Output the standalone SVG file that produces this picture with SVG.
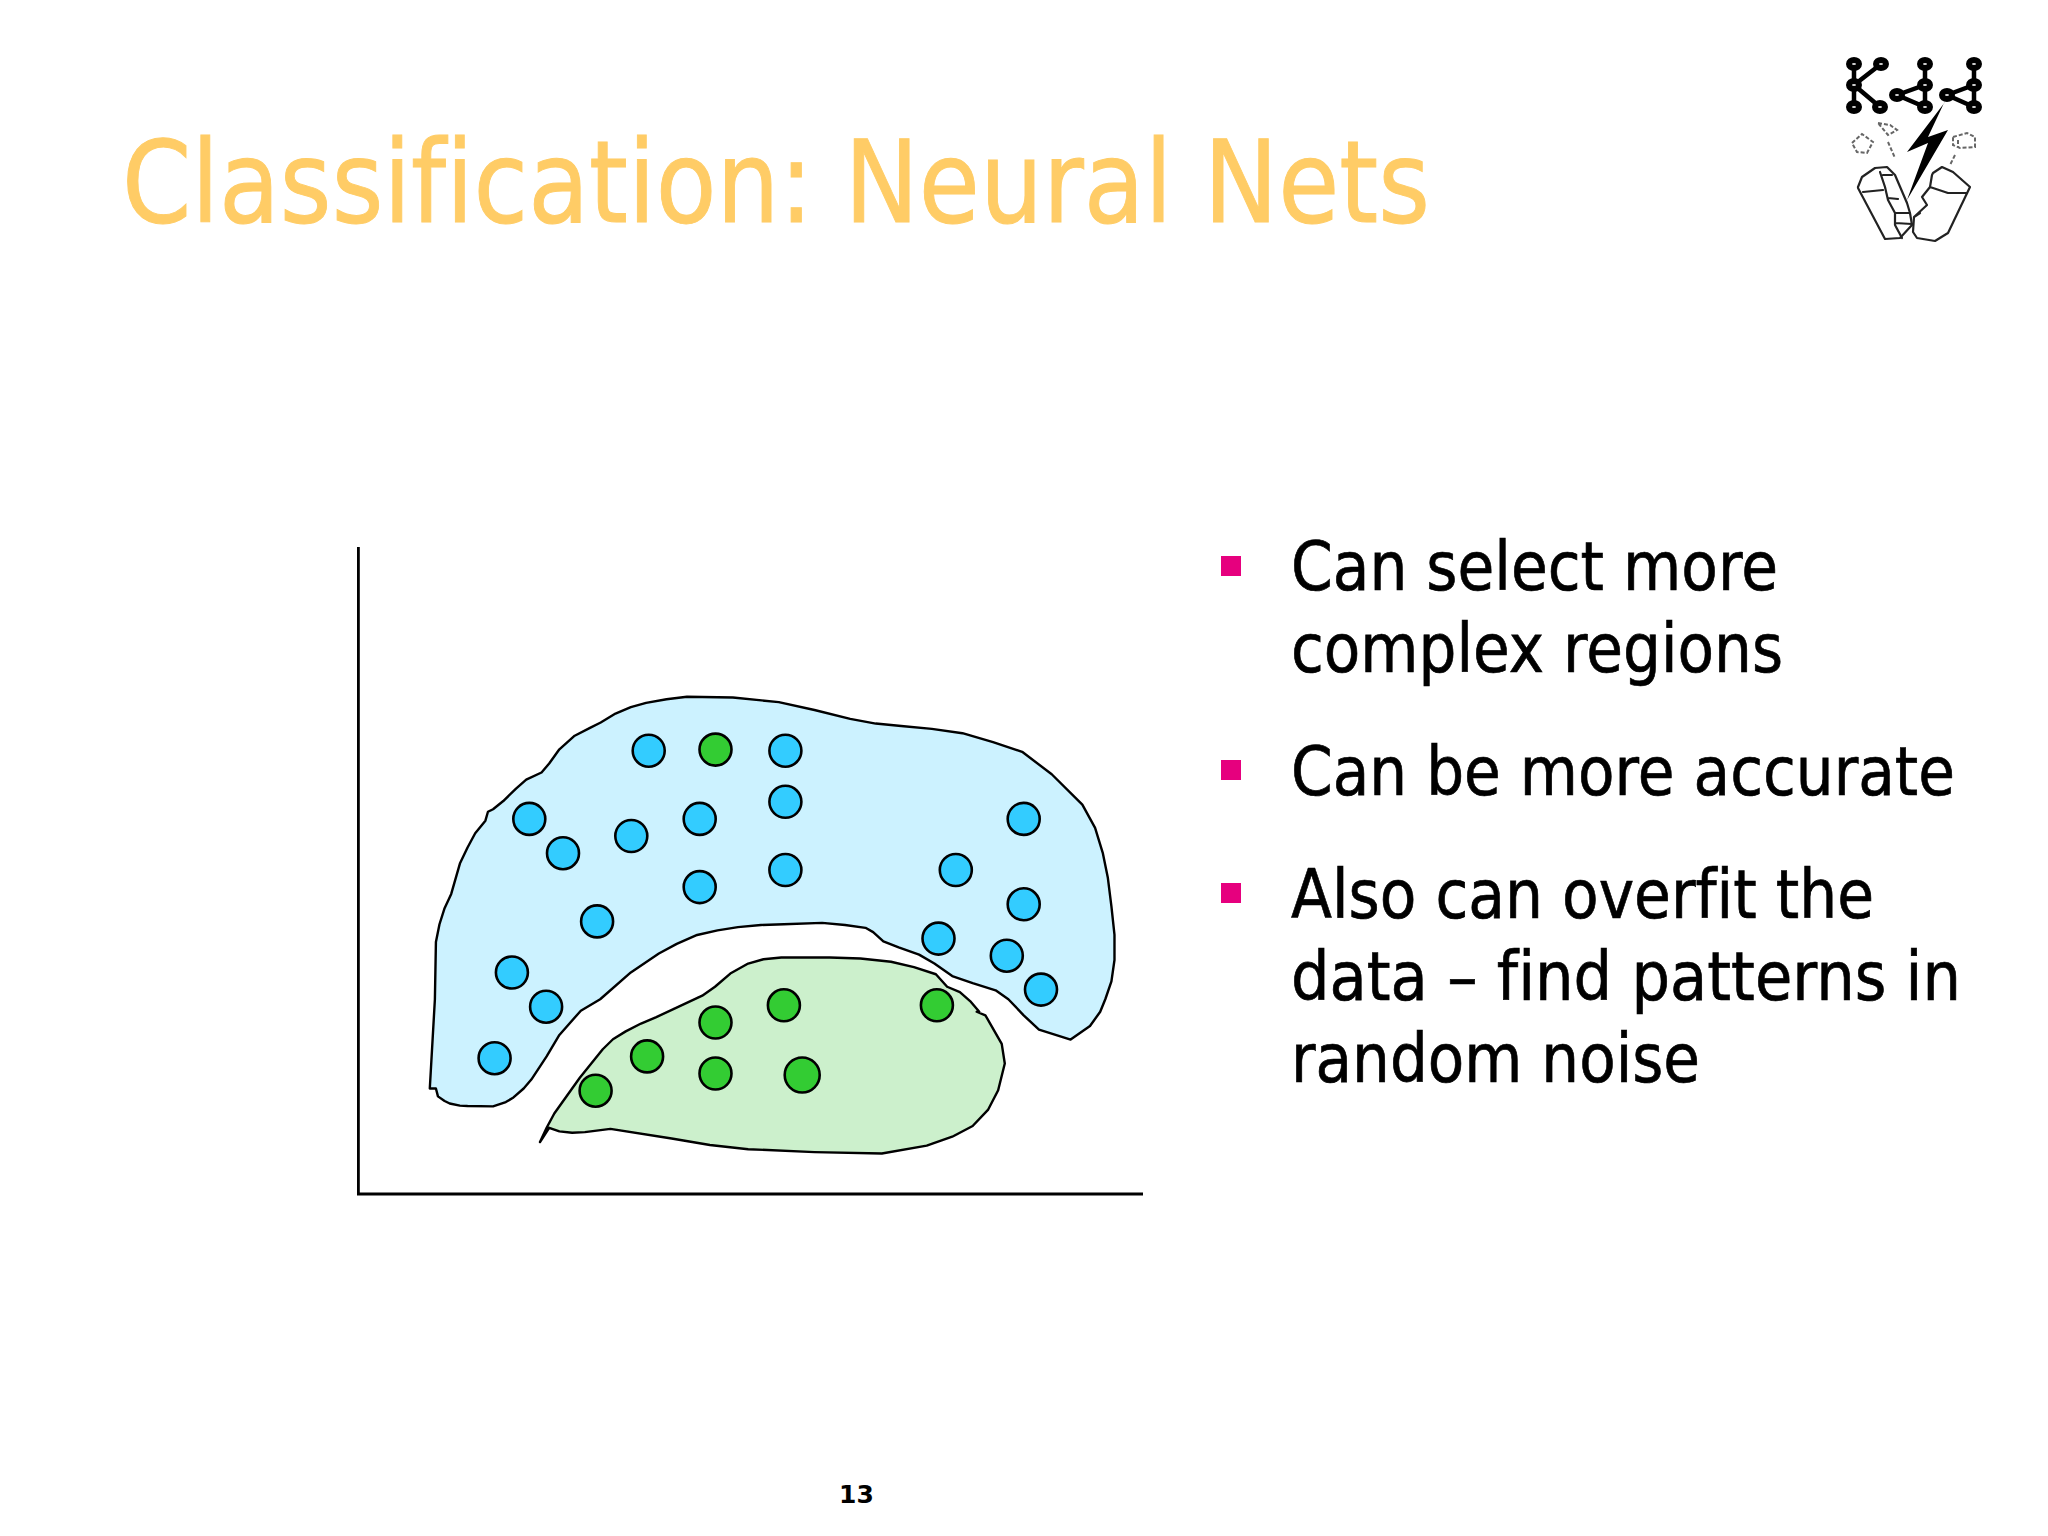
<svg xmlns="http://www.w3.org/2000/svg" width="2048" height="1536" viewBox="0 0 2048 1536">
<style>
text{font-variant-ligatures:none}
.t{font-family:"DejaVu Sans",sans-serif;fill:#000;stroke:#000;stroke-width:.7;font-size:68px}
.b{fill:#33ccff;stroke:#000;stroke-width:2.6}
.g{fill:#33cc33;stroke:#000;stroke-width:2.6}
.r{stroke:#000;stroke-width:2.4;stroke-linejoin:round;vector-effect:non-scaling-stroke}
.a{stroke:#000;stroke-width:2.8;fill:none}
.k{fill:none;stroke:#222;stroke-width:2.2;stroke-linejoin:round;stroke-linecap:round}
.n{fill:#ddd;stroke:#000;stroke-width:6}
.s{fill:#e6007e}
</style>
<defs><filter id="soft" x="-5%" y="-5%" width="110%" height="110%"><feGaussianBlur stdDeviation=".6"/></filter></defs>
<rect width="2048" height="1536" fill="#fff"/>
<text x="122" y="222" font-family="DejaVu Sans, sans-serif" font-size="114" fill="#ffcc66" stroke="#ffcc66" stroke-width="1" textLength="1308" lengthAdjust="spacingAndGlyphs">Classification: Neural Nets</text>
<g id="logo" filter="url(#soft)">
<path d="M1854 64V107M1854 85L1881 64M1854 85L1880 107M1897 95L1925 85L1925 107ZM1925 64V107M1947 95L1974 85L1974 107ZM1974 64V107" fill="none" stroke="#000" stroke-width="4.5"/>
<g class="n"><ellipse cx="1854" cy="64" rx="5" ry="4"/><ellipse cx="1854" cy="85" rx="5" ry="4"/><ellipse cx="1854" cy="107" rx="5" ry="4"/><ellipse cx="1881" cy="64" rx="5" ry="4"/><ellipse cx="1880" cy="107" rx="5" ry="4"/><ellipse cx="1897" cy="95" rx="5" ry="4"/><ellipse cx="1925" cy="64" rx="5" ry="4"/><ellipse cx="1925" cy="85" rx="5" ry="4"/><ellipse cx="1925" cy="107" rx="5" ry="4"/><ellipse cx="1947" cy="95" rx="5" ry="4"/><ellipse cx="1974" cy="64" rx="5" ry="4"/><ellipse cx="1974" cy="85" rx="5" ry="4"/><ellipse cx="1974" cy="107" rx="5" ry="4"/></g>
<path d="M1945 102L1907 152L1928 143L1907 200L1948 130L1928 137L1944 103Z" fill="#000"/>
<path class="k" d="M1858 187L1862 177L1875 168L1887 167L1895 175L1907 203L1910 213L1912 225L1900 238L1885 239L1858 188Z"/>
<path class="k" d="M1880 172L1885 187L1888 200L1895 213L1895 225L1902 238M1863 192L1883 190M1883 175L1892 175M1888 198L1898 199M1895 213L1910 213M1895 223L1912 224"/>
<path class="k" d="M1933 173L1942 167L1953 172L1970 187L1948 233L1935 241L1917 238L1913 232L1914 217L1927 205L1922 197L1930 187L1932 175ZM1930 187L1948 193L1967 193M1914 217L1920 213"/>
<path d="M1852 143L1862 134L1873 142L1867 153L1857 152ZM1878 123L1890 125L1897 130L1888 135ZM1888 142L1895 158M1953 137L1967 133L1975 137L1975 147L1960 148L1953 145ZM1958 140V148M1955 155L1950 165" fill="none" stroke="#666" stroke-width="2" stroke-dasharray="4 2"/>
</g>
<g id="chart">
<path class="a" d="M358.4 547V1194H1143"/>
<g transform="translate(340 660) scale(.5102 .3571)">
<path id="region-blue" class="r" fill="#ccf2ff" d="M176 1200L188 1200L192 1222L205 1235L215 1242L235 1248L250 1249L300 1250L325 1238L340 1225L360 1200L375 1175L405 1110L430 1050L472 982L510 950L570 875L625 822L660 795L700 770L740 757L780 748L825 742L870 740L945 736L990 742L1030 750L1045 762L1065 788L1095 805L1135 825L1165 850L1200 885L1240 905L1285 925L1310 950L1340 995L1370 1035L1432 1063L1470 1025L1490 985L1500 950L1512 900L1518 840L1518 770L1512 690L1505 610L1495 540L1480 470L1455 405L1395 320L1337 257L1280 230L1220 205L1160 193L1100 185L1050 178L1000 165L930 140L860 118L770 105L680 103L640 110L600 120L570 132L540 150L511 175L490 190L460 212L430 250L410 290L395 315L365 335L345 360L320 395L300 418L290 425L285 450L265 485L250 525L235 570L218 655L205 695L195 740L188 790L186 950Z"/>
<path id="region-green" class="r" fill="#ccf0cc" d="M392 1350L410 1310L430 1320L455 1324L480 1322L530 1313L650 1340L725 1358L800 1370L930 1378L1062 1382L1150 1360L1200 1335L1240 1305L1270 1260L1290 1205L1303 1130L1297 1075L1265 995L1248 985L1253 985L1235 955L1215 930L1190 915L1168 880L1125 860L1080 845L1020 836L960 833L865 833L830 838L800 850L765 878L735 915L710 940L665 970L620 1000L590 1018L560 1040L535 1062L515 1090L470 1170L420 1270L405 1310Z"/>
</g>
<g id="points">
<circle class="b" cx="648.7" cy="750.7" r="16"/><circle class="b" cx="785.4" cy="750.7" r="16"/><circle class="b" cx="785.4" cy="801.8" r="16"/><circle class="b" cx="529.3" cy="818.9" r="16"/><circle class="b" cx="699.7" cy="818.9" r="16"/><circle class="b" cx="631.3" cy="836" r="16"/><circle class="b" cx="563" cy="853.2" r="16"/><circle class="b" cx="785.4" cy="870" r="16"/><circle class="b" cx="955.8" cy="870" r="16"/><circle class="b" cx="1023.7" cy="818.9" r="16"/><circle class="b" cx="699.7" cy="887.1" r="16"/><circle class="b" cx="1023.7" cy="904.3" r="16"/><circle class="b" cx="597.1" cy="921.4" r="16"/><circle class="b" cx="938.5" cy="938.6" r="16"/><circle class="b" cx="1006.8" cy="955.7" r="16"/><circle class="b" cx="1041" cy="989.6" r="16"/><circle class="b" cx="511.9" cy="972.5" r="16"/><circle class="b" cx="546.1" cy="1006.7" r="16"/><circle class="b" cx="494.6" cy="1058.2" r="16"/>
<circle class="g" cx="715.5" cy="749.6" r="16"/><circle class="g" cx="783.9" cy="1005.3" r="16"/><circle class="g" cx="936.9" cy="1005.3" r="16"/><circle class="g" cx="715.5" cy="1022.5" r="16"/><circle class="g" cx="647.1" cy="1056.4" r="16"/><circle class="g" cx="715.5" cy="1073.5" r="16"/><circle class="g" cx="802.2" cy="1075" r="17.5"/><circle class="g" cx="595.6" cy="1090.7" r="16"/>
</g>
</g>
<g id="bullets">
<rect class="s" x="1221" y="556" width="20" height="20"/><rect class="s" x="1221" y="760" width="20" height="20"/><rect class="s" x="1221" y="883" width="20" height="20"/>
<text class="t" x="1291" y="590" textLength="487" lengthAdjust="spacingAndGlyphs">Can select more</text>
<text class="t" x="1291" y="672" textLength="492" lengthAdjust="spacingAndGlyphs">complex regions</text>
<text class="t" x="1291" y="795" textLength="664" lengthAdjust="spacingAndGlyphs">Can be more accurate</text>
<text class="t" x="1291" y="918" textLength="583" lengthAdjust="spacingAndGlyphs">Also can overfit the</text>
<text class="t" x="1291" y="1000" textLength="670" lengthAdjust="spacingAndGlyphs">data – find patterns in</text>
<text class="t" x="1291" y="1082" textLength="409" lengthAdjust="spacingAndGlyphs">random noise</text>
</g>
<text x="856.5" y="1503" font-family="DejaVu Sans, sans-serif" font-size="25" font-weight="700" text-anchor="middle" fill="#000">13</text>
</svg>
